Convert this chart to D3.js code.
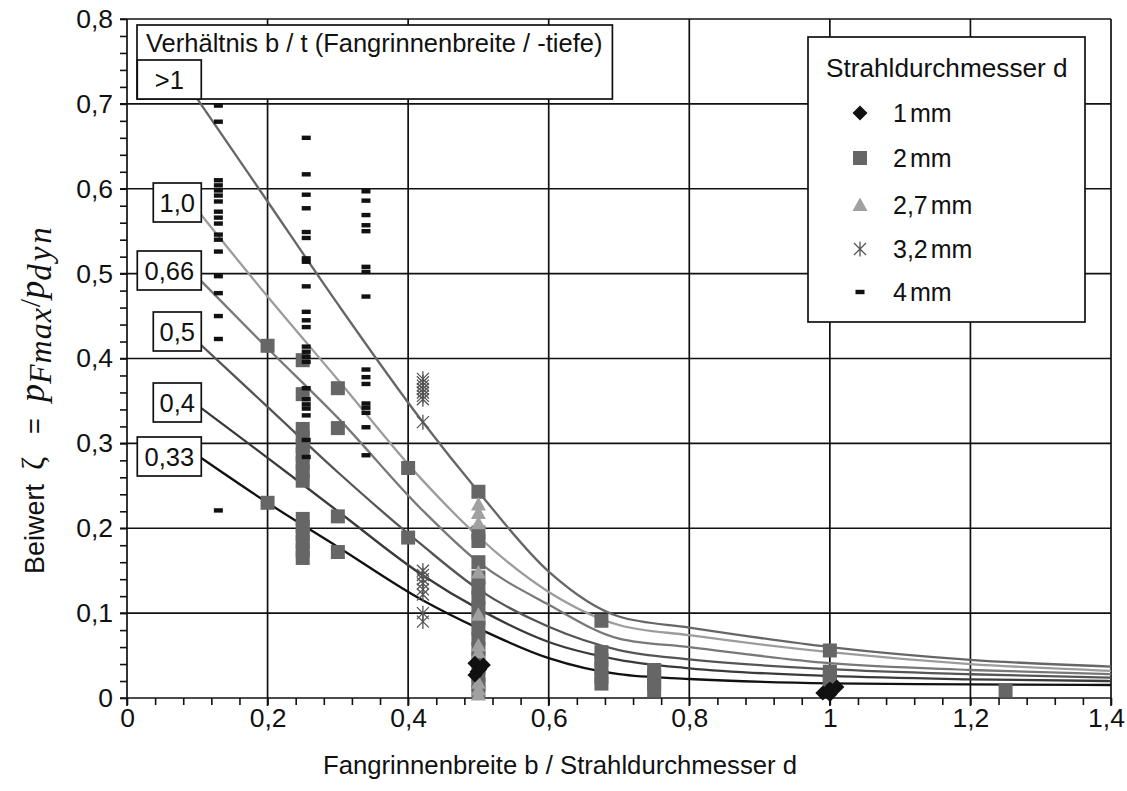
<!DOCTYPE html>
<html>
<head>
<meta charset="utf-8">
<script src="https://cdn.jsdelivr.net/npm/d3@7"></script>
<style>
  body { margin: 0; background: #fff; }
  svg text { font-family: "Liberation Sans", Arial, sans-serif; fill: #111; }
</style>
</head>
<body>
<svg id="chart" width="1127" height="791"></svg>
<script>
// ---- Axis ticks and labels ----
const xTicks = [0, 0.2, 0.4, 0.6, 0.8, 1.0, 1.2, 1.4];
const xTickLabels = ["0", "0,2", "0,4", "0,6", "0,8", "1", "1,2", "1,4"];
const yTicks = [0, 0.1, 0.2, 0.3, 0.4, 0.5, 0.6, 0.7, 0.8];
const yTickLabels = ["0", "0,1", "0,2", "0,3", "0,4", "0,5", "0,6", "0,7", "0,8"];

// ---- Fitted curves for the ratio b / t ----
const curveX    = [0.1,   0.2,   0.3,   0.42,   0.5,   0.6,   0.7,   0.8,   1.0,   1.2,   1.4];
const curveGt1  = [0.706, 0.585, 0.464, 0.326,  0.243, 0.149, 0.096, 0.083, 0.060, 0.045, 0.037];
const curve1_0  = [0.575, 0.473, 0.375, 0.257,  0.190, 0.125, 0.086, 0.074, 0.054, 0.040, 0.032];
const curve0_66 = [0.496, 0.412, 0.330, 0.2215, 0.160, 0.110, 0.070, 0.060, 0.041, 0.033, 0.028];
const curve0_5  = [0.420, 0.343, 0.266, 0.180,  0.128, 0.084, 0.0565,0.0455,0.034, 0.028, 0.024];
const curve0_4  = [0.345, 0.283, 0.220, 0.145,  0.105, 0.066, 0.045, 0.035, 0.026, 0.022, 0.020];
const curve0_33 = [0.286, 0.230, 0.178, 0.1155, 0.082, 0.047, 0.028, 0.0224,0.0173,0.016, 0.0153];
const curveLabels = [">1", "1,0", "0,66", "0,5", "0,4", "0,33"];

// ---- Measured values, grouped as [b/d, [ζ values]] ----
const meas1mm = [
  [0.495, [0.041, 0.027]], [0.507, [0.039]], [0.498, [0.031]], [0.502, [0.034]],
  [0.99, [0.006]], [1.0, [0.011, 0.004]], [1.01, [0.013]]
];
const meas2mm = [
  [0.2,   [0.415, 0.23]],
  [0.25,  [0.398, 0.358, 0.317, 0.307, 0.297, 0.287, 0.277, 0.267, 0.256,
           0.211, 0.202, 0.193, 0.184, 0.174, 0.165]],
  [0.3,   [0.365, 0.318, 0.214, 0.172]],
  [0.4,   [0.271, 0.189]],
  [0.5,   [0.243, 0.195, 0.185, 0.160, 0.142, 0.130, 0.118, 0.106, 0.094, 0.082,
           0.070, 0.058, 0.046, 0.036, 0.026, 0.016, 0.008]],
  [0.675, [0.091, 0.054, 0.045, 0.035, 0.025, 0.017]],
  [0.75,  [0.033, 0.025, 0.017, 0.009]],
  [1.0,   [0.056, 0.031, 0.025, 0.020, 0.016]],
  [1.25,  [0.009]]
];
const meas2_7mm = [
  [0.5, [0.228, 0.218, 0.206, 0.148, 0.098, 0.062, 0.054, 0.018, 0.010, 0.004]],
  [1.0, [0.012]]
];
const meas3_2mm = [
  [0.421, [0.376, 0.372, 0.368, 0.364, 0.360, 0.356, 0.352, 0.325,
           0.150, 0.145, 0.140, 0.135, 0.128, 0.122, 0.100, 0.090]]
];
const meas4mm = [
  [0.13,  [0.698, 0.679, 0.610, 0.604, 0.598, 0.592, 0.585, 0.573, 0.566, 0.559,
           0.546, 0.540, 0.526, 0.497, 0.477, 0.450, 0.423, 0.221]],
  [0.255, [0.660, 0.617, 0.593, 0.577, 0.549, 0.542, 0.518, 0.514, 0.485, 0.455,
           0.445, 0.437, 0.414, 0.408, 0.402, 0.396, 0.365, 0.352, 0.346, 0.341,
           0.333, 0.304, 0.284]],
  [0.34,  [0.597, 0.586, 0.569, 0.557, 0.550, 0.508, 0.502, 0.473, 0.387, 0.378,
           0.370, 0.347, 0.342, 0.336, 0.319, 0.286]]
];
const legendValues = ["1", "2", "2,7", "3,2", "4"];

// ---- Layout ----
const svg = d3.select("#chart");
const plot = { left: 127, right: 1111, top: 19, bottom: 698 };
const x = d3.scaleLinear().domain([0, 1.4]).range([plot.left, plot.right]);
const y = d3.scaleLinear().domain([0, 0.8]).range([plot.bottom, plot.top]);
const FONT = 25.5;
const TICK_FONT = 26.5;
const ink = "#111";
const sans = '"Liberation Sans", Arial, sans-serif';

svg.append("rect").attr("width", 1127).attr("height", 791).attr("fill", "#fff");

// Grid lines
const grid = svg.append("g").attr("stroke", ink).attr("stroke-width", 1.7);
grid.selectAll("line.v").data(xTicks).join("line")
  .attr("x1", d => x(d)).attr("x2", d => x(d))
  .attr("y1", plot.top).attr("y2", plot.bottom + 8);
grid.selectAll("line.h").data(yTicks).join("line")
  .attr("y1", d => y(d)).attr("y2", d => y(d))
  .attr("x1", plot.left - 7).attr("x2", plot.right);

// Minor ticks: every 0.04 on x, every 0.02 on y
const xAxisMinor = d3.axisBottom(x)
  .tickValues(d3.range(0, 1.4001, 0.04)).tickSize(7).tickFormat("");
svg.append("g").attr("transform", `translate(0,${plot.bottom})`).call(xAxisMinor)
  .call(g => g.select(".domain").remove())
  .call(g => g.selectAll("line").attr("stroke", ink).attr("stroke-width", 1.6));
const yAxisMinor = d3.axisLeft(y)
  .tickValues(d3.range(0, 0.8001, 0.02)).tickSize(7).tickFormat("");
svg.append("g").attr("transform", `translate(${plot.left},0)`).call(yAxisMinor)
  .call(g => g.select(".domain").remove())
  .call(g => g.selectAll("line").attr("stroke", ink).attr("stroke-width", 1.6));

// Tick labels
const xAxis = d3.axisBottom(x).tickValues(xTicks).tickSize(0).tickPadding(10)
  .tickFormat((d, i) => xTickLabels[i]);
svg.append("g").attr("transform", `translate(0,${plot.bottom})`).call(xAxis)
  .call(g => g.select(".domain").remove())
  .call(g => g.selectAll("text").attr("font-size", TICK_FONT).attr("fill", ink)
    .attr("font-family", sans))
  .call(g => g.selectAll(".tick:last-of-type text").attr("dx", -5));
const yAxis = d3.axisLeft(y).tickValues(yTicks).tickSize(0).tickPadding(14)
  .tickFormat((d, i) => yTickLabels[i]);
svg.append("g").attr("transform", `translate(${plot.left},0)`).call(yAxis)
  .call(g => g.select(".domain").remove())
  .call(g => g.selectAll("text").attr("font-size", TICK_FONT).attr("fill", ink)
    .attr("font-family", sans));

// Curves
const curves = [curveGt1, curve1_0, curve0_66, curve0_5, curve0_4, curve0_33];
const curveColors = ["#666", "#9c9c9c", "#787878", "#555", "#3a3a3a", "#111"];
const line = d3.line().x(d => x(d[0])).y(d => y(d[1])).curve(d3.curveMonotoneX);
svg.append("g").selectAll("path").data(curves).join("path")
  .attr("d", c => line(d3.zip(curveX, c)))
  .attr("fill", "none")
  .attr("stroke", (c, i) => curveColors[i])
  .attr("stroke-width", 2.3);

// Markers
const flat = groups => groups.flatMap(([bx, vals]) => vals.map(v => [bx, v]));
const markers = svg.append("g");

const sq = 7;
markers.append("g").selectAll("rect").data(flat(meas2mm)).join("rect")
  .attr("x", d => x(d[0]) - sq).attr("y", d => y(d[1]) - sq)
  .attr("width", sq * 2).attr("height", sq * 2).attr("fill", "#666");

const triPath = "M0,-7.5L7.5,6L-7.5,6Z";
markers.append("g").selectAll("path").data(flat(meas2_7mm)).join("path")
  .attr("d", triPath).attr("fill", "#a0a0a0")
  .attr("transform", d => `translate(${x(d[0])},${y(d[1])})`);

const starPath = "M0,-7.5L0,7.5M-6,-6L6,6M-6,6L6,-6";
markers.append("g").selectAll("path").data(flat(meas3_2mm)).join("path")
  .attr("d", starPath).attr("fill", "none").attr("stroke", "#555").attr("stroke-width", 1.3)
  .attr("transform", d => `translate(${x(d[0])},${y(d[1])})`);

markers.append("g").selectAll("rect").data(flat(meas4mm)).join("rect")
  .attr("x", d => x(d[0]) - 4.5).attr("y", d => y(d[1]) - 2.2)
  .attr("width", 9).attr("height", 4.4).attr("fill", ink);

const diaPath = "M0,-7.5L7.5,0L0,7.5L-7.5,0Z";
markers.append("g").selectAll("path").data(flat(meas1mm)).join("path")
  .attr("d", diaPath).attr("fill", ink)
  .attr("transform", d => `translate(${x(d[0])},${y(d[1])})`);

// Header box for the b / t labels
const header = svg.append("g");
const headerText = header.append("text").attr("x", 146).attr("y", 52)
  .attr("font-size", FONT).text("Verhältnis b / t (Fangrinnenbreite / -tiefe)");
const headerW = headerText.node().getComputedTextLength() + 19;
header.insert("rect", "text").attr("x", 137).attr("y", 25)
  .attr("width", headerW).attr("height", 74)
  .attr("fill", "#fff").attr("stroke", ink).attr("stroke-width", 1.7);

// Curve label boxes (left end of each curve)
const labelBoxW = [64, 48, 64, 48, 48, 64];
const labelBoxTop = [60, 183, 251, 312, 383, 437];
const boxH = 39;
const boxRight = x(curveX[0]) + 4;
const lab = svg.append("g").selectAll("g").data(curveLabels).join("g");
lab.append("rect")
  .attr("x", (d, i) => boxRight - labelBoxW[i]).attr("y", (d, i) => labelBoxTop[i])
  .attr("width", (d, i) => labelBoxW[i]).attr("height", boxH)
  .attr("fill", "#fff").attr("stroke", ink).attr("stroke-width", 1.7);
lab.append("text")
  .attr("x", (d, i) => boxRight - labelBoxW[i] / 2)
  .attr("y", (d, i) => labelBoxTop[i] + boxH / 2 + 9)
  .attr("text-anchor", "middle").attr("font-size", FONT).text(d => d);

// Legend
const legend = svg.append("g");
legend.append("rect").attr("x", 808).attr("y", 37).attr("width", 277).attr("height", 285)
  .attr("fill", "#fff").attr("stroke", ink).attr("stroke-width", 1.7);
legend.append("text").attr("x", 826).attr("y", 77).attr("font-size", 26.2)
  .text("Strahldurchmesser d");
const legendRowY = [113, 158, 205, 249, 292];
const legendShapes = [
  g => g.append("path").attr("d", diaPath).attr("fill", ink),
  g => g.append("rect").attr("x", -sq).attr("y", -sq).attr("width", sq * 2).attr("height", sq * 2).attr("fill", "#666"),
  g => g.append("path").attr("d", triPath).attr("fill", "#a0a0a0"),
  g => g.append("path").attr("d", starPath).attr("fill", "none").attr("stroke", "#555").attr("stroke-width", 1.3),
  g => g.append("rect").attr("x", -4.5).attr("y", -2.2).attr("width", 9).attr("height", 4.4).attr("fill", ink)
];
legendValues.forEach((v, i) => {
  const g = legend.append("g").attr("transform", `translate(860,${legendRowY[i]})`);
  legendShapes[i](g);
  const t = legend.append("text").attr("x", 893).attr("y", legendRowY[i] + 9)
    .attr("font-size", 25);
  t.append("tspan").text(v);
  t.append("tspan").attr("dx", 3).text("mm");
});

// Axis titles
svg.append("text").attr("x", 560).attr("y", 774)
  .attr("text-anchor", "middle").attr("font-size", 25.7)
  .text("Fangrinnenbreite b / Strahldurchmesser d");

const serif = '"Liberation Serif", "Times New Roman", serif';
const yt = svg.append("text").attr("transform", "translate(44,574) rotate(-90)")
  .attr("font-size", 27);
yt.append("tspan").attr("x", 0).text("Beiwert");
yt.append("tspan").attr("x", 104).attr("font-family", serif).attr("font-size", 32).text("ζ");
yt.append("tspan").attr("x", 140).text("=");
yt.append("tspan").attr("x", 172).attr("font-family", serif).attr("font-style", "italic")
  .attr("font-size", 36).text("p");
yt.append("tspan").attr("font-family", serif).attr("font-style", "italic")
  .attr("font-size", 32).attr("letter-spacing", 1).attr("dy", 7).text("Fmax");
yt.append("tspan").attr("font-family", serif).attr("font-size", 30)
  .attr("dy", -11).text("/");
yt.append("tspan").attr("font-family", serif).attr("font-style", "italic")
  .attr("font-size", 36).attr("dy", 4).text("p");
yt.append("tspan").attr("font-family", serif).attr("font-style", "italic")
  .attr("font-size", 33).attr("letter-spacing", 3).attr("dy", 7).text("dyn");
</script>
</body>
</html>
